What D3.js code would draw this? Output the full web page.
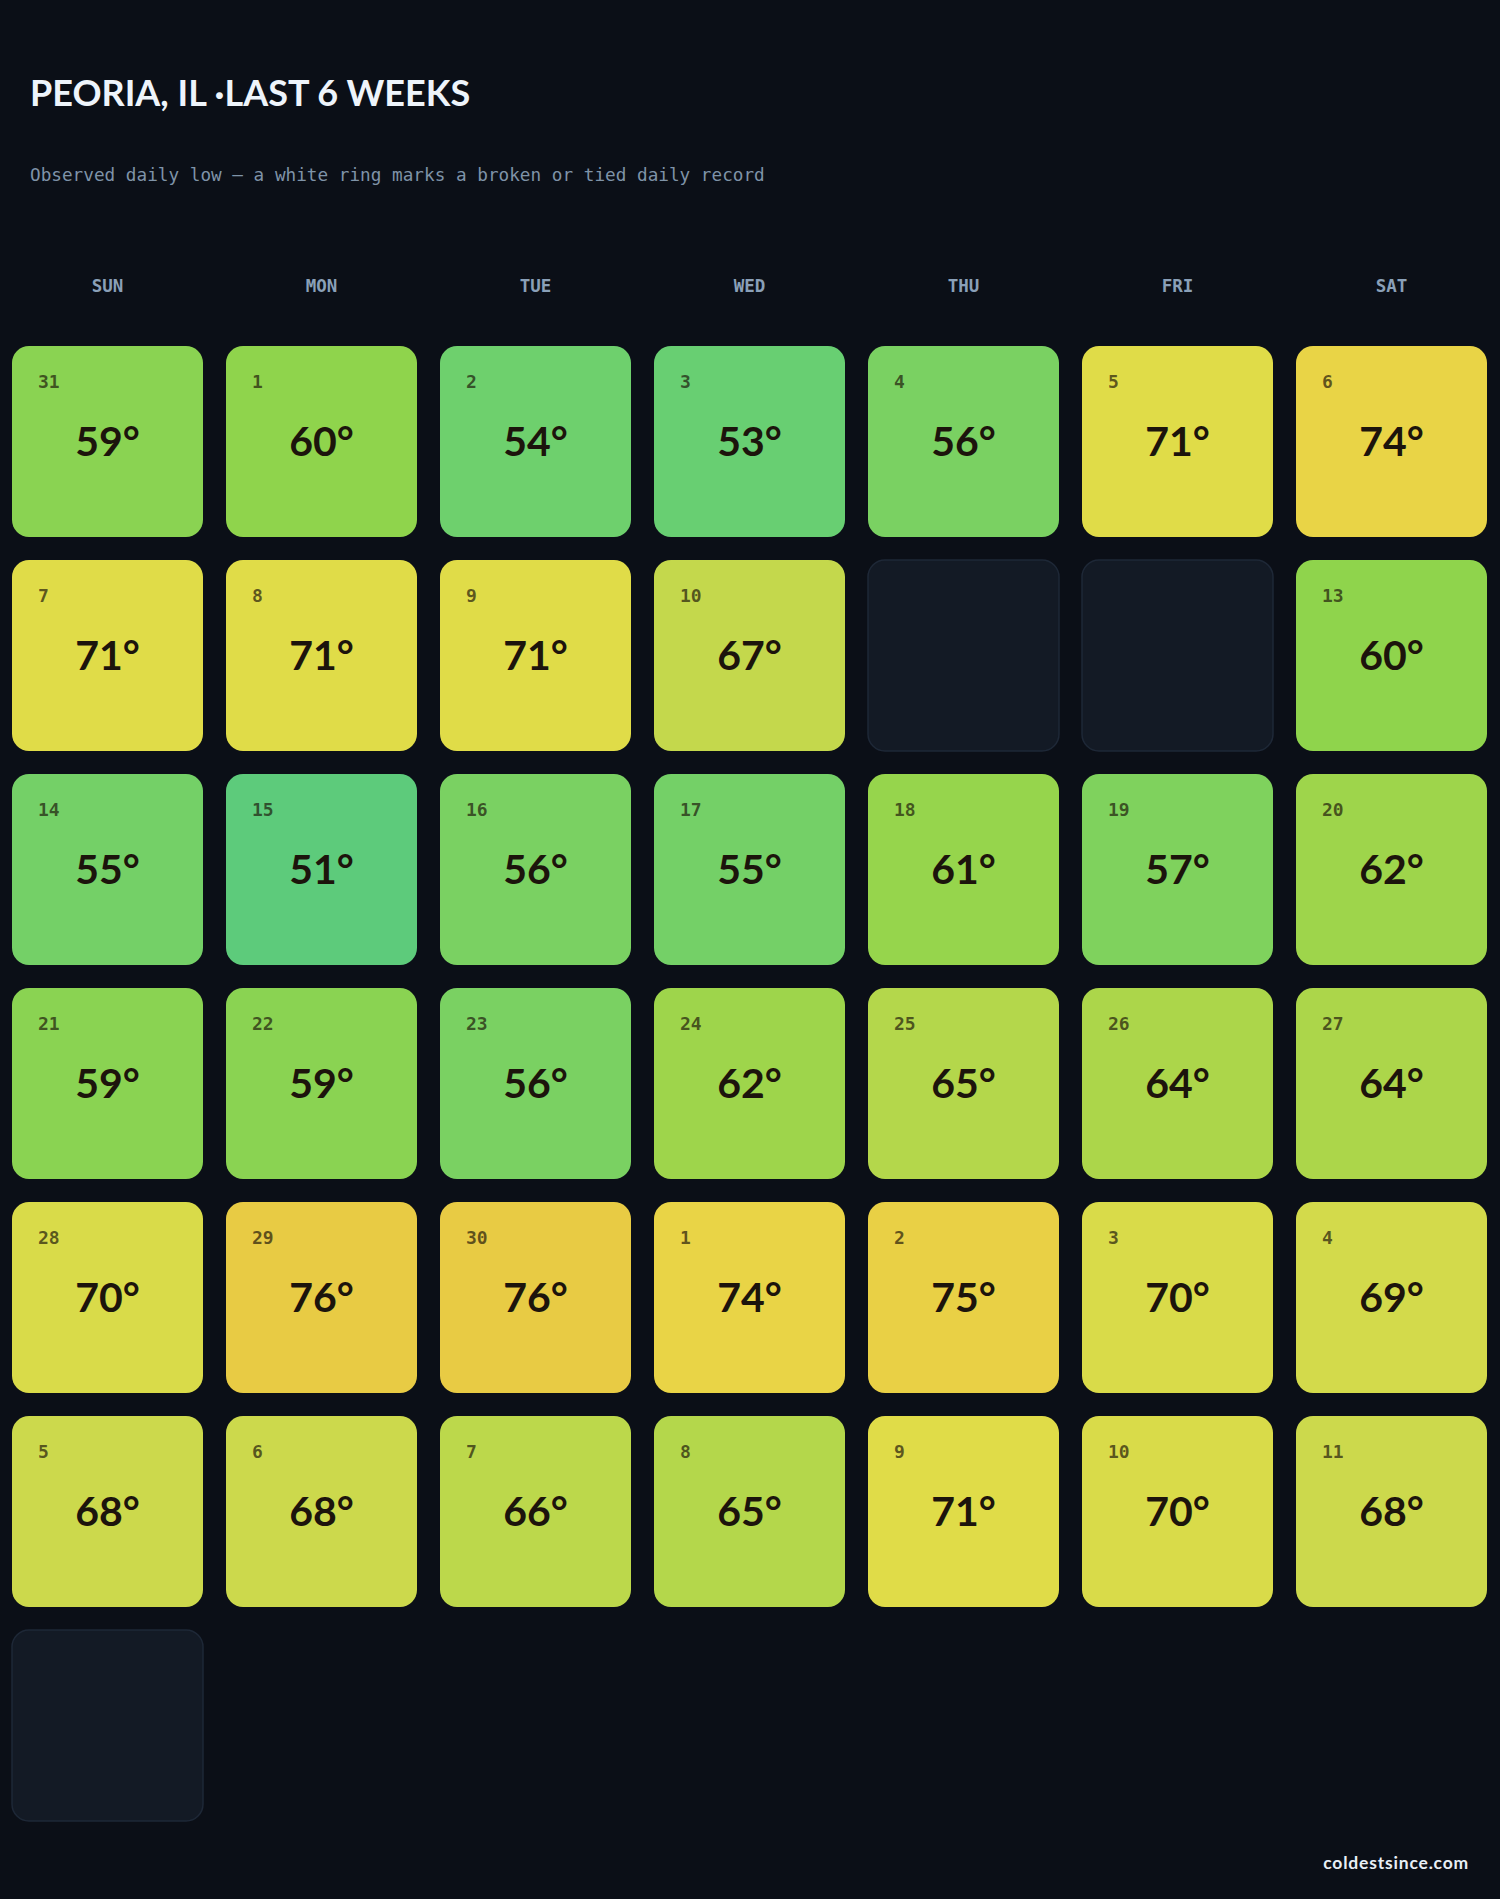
<!DOCTYPE html>
<html>
<head>
<meta charset="utf-8">
<script src="https://cdn.jsdelivr.net/npm/d3@7"></script>
<style>
  html, body { margin: 0; padding: 0; background: #0b0f17; }
  svg { display: block; }
</style>
</head>
<body>
<svg id="chart" width="1500" height="1899"></svg>
<script>
// ---- data ----
const weekdays = ["SUN", "MON", "TUE", "WED", "THU", "FRI", "SAT"];
// day-of-month label per calendar slot (null = no data)
const dayLabels = [
  31, 1, 2, 3, 4, 5, 6,
  7, 8, 9, 10, 11, 12, 13,
  14, 15, 16, 17, 18, 19, 20,
  21, 22, 23, 24, 25, 26, 27,
  28, 29, 30, 1, 2, 3, 4,
  5, 6, 7, 8, 9, 10, 11,
  12
];
// observed daily low, °F (null = missing)
const lows = [
  59, 60, 54, 53, 56, 71, 74,
  71, 71, 71, 67, null, null, 60,
  55, 51, 56, 55, 61, 57, 62,
  59, 59, 56, 62, 65, 64, 64,
  70, 76, 76, 74, 75, 70, 69,
  68, 68, 66, 65, 71, 70, 68,
  null
];
// record flags (none in this period)
const records = lows.map(() => false);

const colorStops = [51, 53, 56, 60, 64, 68, 71, 74, 76];
const colorRange = ["#5dcb7b", "#68cf72", "#7ad162", "#8fd44c", "#acd64a", "#ccd94c", "#e0dc48", "#e9d446", "#e8cb44"];

// ---- drawing ----
const svg = d3.select("#chart");
const W = 1500, H = 1899;
svg.append("rect").attr("width", W).attr("height", H).attr("fill", "#0b0f17");

const cells = dayLabels.map((d, i) => ({ day: d, low: lows[i], rec: records[i], col: i % 7, row: Math.floor(i / 7) }));

const x = d3.scaleBand().domain(d3.range(7)).range([12, 1487]).paddingInner(23 / 214);
const y = d3.scaleBand().domain(d3.range(7)).range([346, 1821]).paddingInner(23 / 214);
const color = d3.scaleLinear().domain(colorStops).range(colorRange).interpolate(d3.interpolateRgb).clamp(true);

const titleFont = "Lato, 'Noto Sans', sans-serif";
const mono = "'DejaVu Sans Mono', monospace";

svg.append("text")
  .attr("x", 30).attr("y", 106)
  .attr("fill", "#eef4fb")
  .attr("font-family", titleFont).attr("font-weight", 700)
  .attr("font-size", 36)
  .text("PEORIA, IL \u00B7LAST 6 WEEKS");

svg.append("text")
  .attr("x", 30).attr("y", 181)
  .attr("fill", "#7f93a8")
  .attr("font-family", mono)
  .attr("font-size", 17.7)
  .text("Observed daily low \u2014 a white ring marks a broken or tied daily record");

svg.append("g").selectAll("text").data(weekdays).join("text")
  .attr("x", (d, i) => x(i) + x.bandwidth() / 2)
  .attr("y", 292)
  .attr("text-anchor", "middle")
  .attr("fill", "#8aa0b8")
  .attr("font-family", mono).attr("font-weight", 700)
  .attr("font-size", 17.5)
  .text(d => d);

const g = svg.append("g").selectAll("g").data(cells).join("g")
  .attr("transform", d => `translate(${x(d.col)},${y(d.row)})`);

g.append("rect")
  .attr("width", x.bandwidth()).attr("height", y.bandwidth())
  .attr("rx", 17).attr("ry", 17)
  .attr("fill", d => d.low == null ? "#131a25" : color(d.low))
  .attr("stroke", d => d.low == null ? "#1e2837" : (d.rec ? "#ffffff" : "none"))
  .attr("stroke-width", d => d.low == null ? 1.5 : 3);

const filled = g.filter(d => d.low != null);

filled.append("text")
  .attr("x", 26).attr("y", 42)
  .attr("fill", "#1a1208").attr("fill-opacity", 0.68)
  .attr("font-family", mono).attr("font-weight", 700)
  .attr("font-size", 18)
  .text(d => d.day);

filled.append("text")
  .attr("x", x.bandwidth() / 2).attr("y", 110)
  .attr("text-anchor", "middle")
  .attr("fill", "#1c140c")
  .attr("font-family", titleFont).attr("font-weight", 700)
  .attr("font-size", 41)
  .text(d => d.low + "\u00B0");

svg.append("text")
  .attr("x", 1469).attr("y", 1869)
  .attr("text-anchor", "end")
  .attr("fill", "#e8eef5")
  .attr("font-family", titleFont).attr("font-weight", 700)
  .attr("font-size", 17.5)
  .attr("letter-spacing", 0.8)
  .text("coldestsince.com");
</script>
</body>
</html>
